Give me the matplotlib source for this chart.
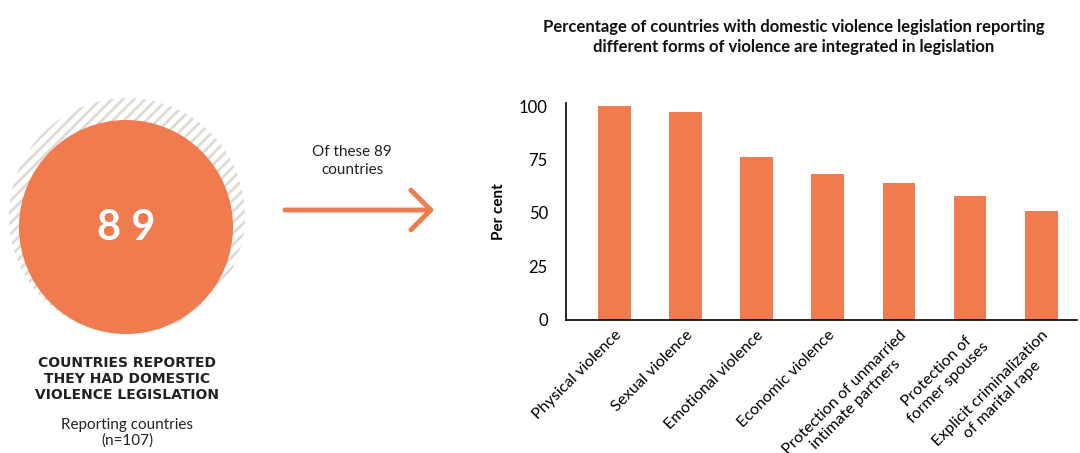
import matplotlib
matplotlib.use("Agg")
import matplotlib.pyplot as plt
from matplotlib.patches import Circle, FancyArrowPatch

# Data
categories = ["Physical violence", "Sexual violence", "Emotional violence",
              "Economic violence", "Protection of unmarried\nintimate partners",
              "Protection of\nformer spouses", "Explicit criminalization\nof marital rape"]
values = [100, 97, 76, 68, 64, 58, 51]
yticks = [0, 25, 50, 75, 100]

countries_with_law = 89
reporting_countries = 107

ORANGE = "#EF7B4F"
HATCH = "#DEDBD5"

plt.rcParams['font.family'] = ['Lato', 'DejaVu Sans']
plt.rcParams['hatch.linewidth'] = 2.0

fig = plt.figure(figsize=(10.8, 4.53), dpi=100)

# Big circle panel (pixel coordinates of the whole figure)
bg = fig.add_axes([0, 0, 1, 1])
bg.set_xlim(0, 1080)
bg.set_ylim(453, 0)
bg.axis("off")

hatched = Circle((127, 216), 118, facecolor="none", edgecolor=HATCH,
                 hatch="///", lw=0)
bg.add_patch(hatched)
bg.add_patch(Circle((126, 227), 107, facecolor=ORANGE, edgecolor="none"))
bg.text(126, 228, "8 9", color="white", fontsize=30, fontweight="bold",
        ha="center", va="center")

bg.text(127, 379, "COUNTRIES REPORTED\nTHEY HAD DOMESTIC\nVIOLENCE LEGISLATION",
        ha="center", va="center", fontsize=10, fontweight="bold",
        color="#222222", linespacing=1.2, family=['DejaVu Sans'])
bg.text(127, 433, f"Reporting countries\n(n={reporting_countries})",
        ha="center", va="center", fontsize=11, color="#222222",
        linespacing=1.15)

# Arrow
bg.text(352, 161, f"Of these {countries_with_law}\ncountries", ha="center",
        va="center", fontsize=11, color="#222222", linespacing=1.3)
arrow = FancyArrowPatch((282, 210), (437, 210), arrowstyle="->,head_length=11,head_width=11",
                        color=ORANGE, lw=3.5, mutation_scale=1.3)
bg.add_patch(arrow)

# Chart title
bg.text(794, 37, "Percentage of countries with domestic violence legislation reporting\n"
        "different forms of violence are integrated in legislation",
        ha="center", va="center", fontsize=12, fontweight="bold",
        color="#111111", linespacing=1.25)

# Bar chart
ax = fig.add_axes([0.524, 0.294, 0.473, 0.479])
x = range(len(categories))
ax.bar(x, values, width=0.46, color=ORANGE)
ax.set_ylim(0, 101.5)
ax.set_xlim(-0.68, len(categories) - 0.5)
ax.set_yticks(yticks)
ax.tick_params(axis="y", length=0, labelsize=12, pad=13)
ax.tick_params(axis="x", length=0, labelsize=11.5, pad=6)
ax.set_xticks(list(x))
ax.set_xticklabels(categories, rotation=45, ha="right", rotation_mode="anchor",
                   multialignment="center")
ax.set_ylabel("Per cent", fontsize=11, fontweight="bold")
ax.yaxis.set_label_coords(-0.117, 0.5)
for side in ["top", "right"]:
    ax.spines[side].set_visible(False)
ax.spines["left"].set_linewidth(1.2)
ax.spines["bottom"].set_linewidth(1.2)

fig.savefig("out.png", dpi=100)
